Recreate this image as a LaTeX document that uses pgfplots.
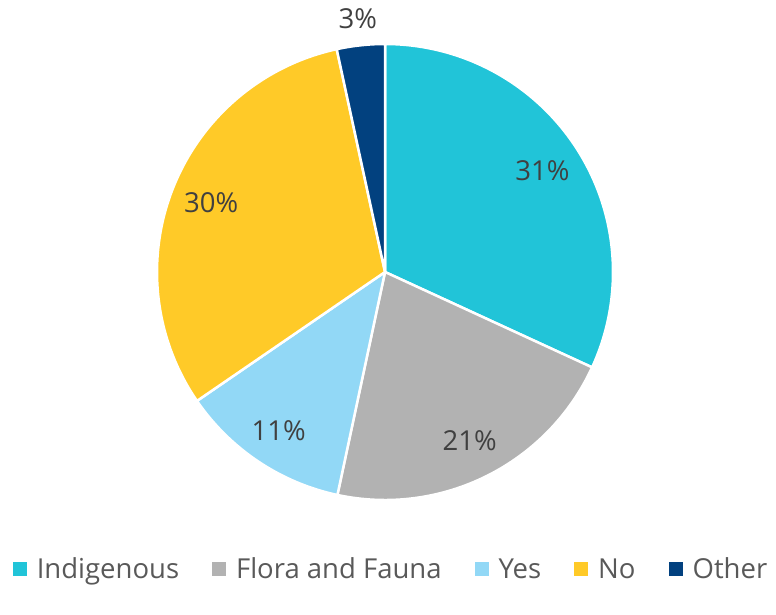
\documentclass[border=0pt]{standalone}
\usepackage{pgfplots}
\usepackage{pgfplotstable}
\pgfplotsset{compat=1.18}
\usepackage{fontspec}
\setmainfont{Open Sans}

\definecolor{pie0}{HTML}{21C4D8}
\definecolor{pie1}{HTML}{B2B2B2}
\definecolor{pie2}{HTML}{92D8F6}
\definecolor{pie3}{HTML}{FFCA28}
\definecolor{pie4}{HTML}{02417F}
\definecolor{labeltext}{HTML}{404040}
\definecolor{legendtext}{HTML}{595959}

% share of each slice, label shown, label distance from centre
\pgfplotstableread{
label shown value lr
Indigenous 31 31.9 187
Flora 21 21.5 189
Yes 11 12.1 191
No 30 31.2 187
Other 3 3.4 255
}\piedata

\newcommand\labelfont{\fontsize{27.5}{31}\selectfont}
\def\cx{385}\def\cy{342}\def\rad{228}

\pgfplotstablegetrowsof{\piedata}
\pgfmathtruncatemacro\nlast{\pgfplotsretval-1}
\def\total{0}
\pgfplotsforeachungrouped \i in {0,...,\nlast}{%
  \pgfplotstablegetelem{\i}{value}\of\piedata
  \pgfmathsetmacro\total{\total+\pgfplotsretval}}
\def\cum{0}
\def\piefills{}
\def\pielabels{}
\pgfplotsforeachungrouped \i in {0,...,\nlast}{%
  \pgfplotstablegetelem{\i}{value}\of\piedata \let\v\pgfplotsretval
  \pgfplotstablegetelem{\i}{shown}\of\piedata \let\s\pgfplotsretval
  \pgfplotstablegetelem{\i}{lr}\of\piedata \let\lr\pgfplotsretval
  \pgfmathsetmacro\sa{90-360*(\cum/\total)}
  \pgfmathsetmacro\cum{\cum+\v}
  \pgfmathsetmacro\ea{90-360*(\cum/\total)}
  \pgfmathsetmacro\ma{(\sa+\ea)/2}
  \pgfmathsetmacro\lx{\cx+\lr*cos(\ma)}
  \pgfmathsetmacro\ly{\cy+\lr*sin(\ma)}
  \xdef\piefills{\unexpanded\expandafter{\piefills}%
    \noexpand\fill[pie\i,draw=white,line width=2.5pt,line join=round]
      (axis cs:\cx,\cy) -- ++(\sa:\rad pt)
      arc[start angle=\sa,end angle=\ea,radius=\rad pt] -- cycle;}%
  \xdef\pielabels{\unexpanded\expandafter{\pielabels}%
    \noexpand\node[text=labeltext,font=\noexpand\labelfont]
      at (axis cs:\lx,\ly) {\s\noexpand\%};}%
}

\pgfplotsset{
  pie key/.style={legend image code/.code={%
    \fill[#1,draw=none] (0pt,-7pt) rectangle (14pt,7pt);
    \path[draw=none,fill=none] (0pt,0pt) -- (22pt,0pt);}},
}

\begin{document}
\begin{tikzpicture}
\begin{axis}[
    scale only axis,
    width=776pt, height=614pt,
    xmin=0, xmax=776, ymin=0, ymax=614,
    hide axis, clip=false,
    legend columns=-1,
    legend style={at={(axis cs:391,45)}, anchor=center,
        draw=none, fill=none, text=legendtext,
        font=\fontsize{27.5}{31}\selectfont,
        /tikz/every even column/.append style={column sep=31pt}},
]
\piefills
\pielabels
\addlegendimage{pie key=pie0}
\addlegendentry{Indigenous}
\addlegendimage{pie key=pie1}
\addlegendentry{Flora and Fauna}
\addlegendimage{pie key=pie2}
\addlegendentry{Yes}
\addlegendimage{pie key=pie3}
\addlegendentry{No}
\addlegendimage{pie key=pie4}
\addlegendentry{Other}
\end{axis}
\path (current axis.south west) rectangle (current axis.north east);
\end{tikzpicture}
\end{document}
